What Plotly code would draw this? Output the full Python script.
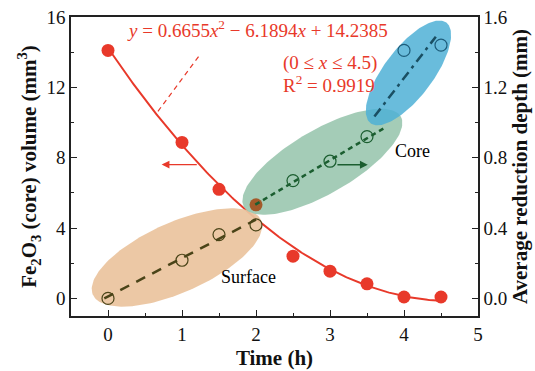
import numpy as np
import plotly.graph_objects as go

# ---------------- data ----------------
time_h = [0, 1, 1.5, 2, 2.5, 3, 3.5, 4, 4.5]
core_volume = [14.1, 8.87, 6.2, 5.32, 2.4, 1.55, 0.83, 0.08, 0.08]
reduction_depth = [0.0, 0.217, 0.363, 0.418, 0.67, 0.78, 0.92, 1.41, 1.44]

fit_coef = [0.6655, -6.1894, 14.2385]
fit_range = [0, 4.5]

surface_fit_x = [-0.05, 2.0]
surface_fit_y = [0.0, 0.448]
core_fit_x = [1.99, 3.73]
core_fit_y = [0.533, 0.968]
deep_fit_x = [3.6, 4.43]
deep_fit_y = [1.034, 1.488]

x_ticks = [0, 1, 2, 3, 4, 5]
y_ticks = [0, 4, 8, 12, 16]
y2_ticks = [0.0, 0.4, 0.8, 1.2, 1.6]

# ---------------- geometry ----------------
W, H = 535, 371
ML, MR, MT, MB = 71, 57, 17, 55
XR = [-0.5, 5]
YR = [-1, 16]
Y2R = [-0.1, 1.6]
PX_X = (W - ML - MR) / (XR[1] - XR[0])
PX_Y = (H - MT - MB) / (YR[1] - YR[0])

RED = "#e8392a"
FONT = "Liberation Serif"


def ellipse(cx, cy, a_px, b_px, ang_deg, n=160):
    t = np.linspace(0, 2 * np.pi, n)
    th = np.radians(ang_deg)
    dx = a_px * np.cos(t) * np.cos(th) - b_px * np.sin(t) * np.sin(th)
    dy = a_px * np.cos(t) * np.sin(th) + b_px * np.sin(t) * np.cos(th)
    return cx + dx / PX_X, cy + dy / PX_Y


fig = go.Figure()

# fitted red curve
xf = np.linspace(fit_range[0], fit_range[1], 200)
yf = np.polyval(fit_coef, xf)
fig.add_trace(go.Scatter(x=xf, y=yf, mode="lines", line=dict(color=RED, width=2),
                         hoverinfo="skip", showlegend=False))

# ellipses (on primary y, whose units are 10x the secondary)
for (cx, cy, a, b, ang, col, op) in [
    (0.932, 2.33, 92, 35, 24, "#ebc49e", 0.93),
    (2.897, 7.77, 90.5, 32, 30, "#9dc8b1", 0.93),
    (4.06, 12.82, 63, 24.5, 53, "#4fb0d6", 0.85),
]:
    ex, ey = ellipse(cx, cy, a, b, ang)
    fig.add_trace(go.Scatter(x=ex, y=ey, mode="lines", fill="toself", fillcolor=col,
                             line=dict(width=0), opacity=op, hoverinfo="skip",
                             showlegend=False))

# leader dashed line to equation
fig.add_trace(go.Scatter(x=[0.675, 1.244], y=[10.64, 13.86], mode="lines",
                         line=dict(color=RED, width=1.2, dash="5px,4px"),
                         hoverinfo="skip", showlegend=False))

# red filled points
red_cols = [RED if t != 2 else "#a35a2a" for t in time_h]
fig.add_trace(go.Scatter(x=time_h, y=core_volume, mode="markers",
                         marker=dict(color=red_cols, size=13, line=dict(width=0)),
                         showlegend=False))

# secondary axis: fit lines and open circles
fig.add_trace(go.Scatter(x=surface_fit_x, y=surface_fit_y, yaxis="y2", mode="lines",
                         line=dict(color="#4a4418", width=2.5, dash="10px,8px"),
                         showlegend=False))
fig.add_trace(go.Scatter(x=core_fit_x, y=core_fit_y, yaxis="y2", mode="lines",
                         line=dict(color="#1b5e30", width=2.5, dash="5px,4px"),
                         showlegend=False))
fig.add_trace(go.Scatter(x=deep_fit_x, y=deep_fit_y, yaxis="y2", mode="lines",
                         line=dict(color="#1a4f63", width=2.5, dash="10px,5px,3px,5px"),
                         showlegend=False))

groups = [(slice(0, 4), "#4a4418"), (slice(4, 7), "#1b5e30"), (slice(7, 9), "#1d5c7a")]
for sl, col in groups:
    fig.add_trace(go.Scatter(x=time_h[sl], y=reduction_depth[sl], yaxis="y2", mode="markers",
                             marker=dict(symbol="circle-open", size=12, color=col,
                                         line=dict(width=1.2, color=col)),
                             showlegend=False))

ann_font = dict(family=FONT, size=19, color=RED)
annotations = [
    dict(x=0.226, y=15.3, xref="x", yref="y", xanchor="left", yanchor="middle",
         text="<i>y</i> = 0.6655<i>x</i><sup>2</sup> \u2212 6.1894<i>x</i> + 14.2385",
         showarrow=False, font=ann_font),
    dict(x=2.34, y=13.4, xref="x", yref="y", xanchor="left", yanchor="middle",
         text="(0 \u2264 <i>x</i> \u2264 4.5)", showarrow=False, font=ann_font),
    dict(x=2.34, y=12.2, xref="x", yref="y", xanchor="left", yanchor="middle",
         text="R<sup>2</sup> = 0.9919", showarrow=False, font=ann_font),
    dict(x=1.90, y=1.22, xref="x", yref="y", text="Surface", showarrow=False,
         font=dict(family=FONT, size=18, color="black")),
    dict(x=4.117, y=8.40, xref="x", yref="y", text="Core", showarrow=False,
         font=dict(family=FONT, size=18, color="black")),
    dict(x=0.725, y=7.61, xref="x", yref="y", ax=1.22, ay=7.61, axref="x", ayref="y",
         text="", showarrow=True, arrowhead=2, arrowsize=1.2, arrowwidth=1.3, arrowcolor=RED),
    dict(x=3.51, y=0.76, xref="x", yref="y2", ax=3.08, ay=0.76, axref="x", ayref="y2",
         text="", showarrow=True, arrowhead=2, arrowsize=1.2, arrowwidth=1.3, arrowcolor="#1b5e30"),
]

axis_common = dict(showgrid=False, zeroline=False, showline=True, linecolor="#222",
                   linewidth=1.5, ticks="inside", ticklen=6, tickwidth=1.3, tickcolor="#222",
                   automargin=False,
                   tickfont=dict(family=FONT, size=19, color="#111"))

title_font = dict(family=FONT, size=21, color="#111")

fig.update_layout(
    width=W, height=H, margin=dict(l=ML, r=MR, t=MT, b=MB, autoexpand=False),
    paper_bgcolor="white", plot_bgcolor="white",
    font=dict(family=FONT),
    xaxis=dict(range=XR, tickvals=x_ticks, mirror=True,
               minor=dict(dtick=0.5, ticks="inside", ticklen=3.5, tickcolor="#222", tickwidth=1.2),
               title=dict(text="<b>Time (h)</b>", font=title_font, standoff=7),
               **axis_common),
    yaxis=dict(range=YR, tickvals=y_ticks,
               minor=dict(dtick=2, ticks="inside", ticklen=3.5, tickcolor="#222", tickwidth=1.2),
               title=dict(text="<b>Fe<sub>2</sub>O<sub>3</sub> (core) volume (mm<sup>3</sup>)</b>",
                          font=title_font, standoff=4),
               **axis_common),
    yaxis2=dict(range=Y2R, tickvals=y2_ticks, tickformat=".1f", overlaying="y", side="right",
                anchor="x",
                minor=dict(dtick=0.2, ticks="inside", ticklen=3.5, tickcolor="#222", tickwidth=1.2),
                title=dict(text="<b>Average reduction depth (mm)</b>", font=title_font, standoff=4),
                **axis_common),
    annotations=annotations,
)

fig.write_html("out.html")
